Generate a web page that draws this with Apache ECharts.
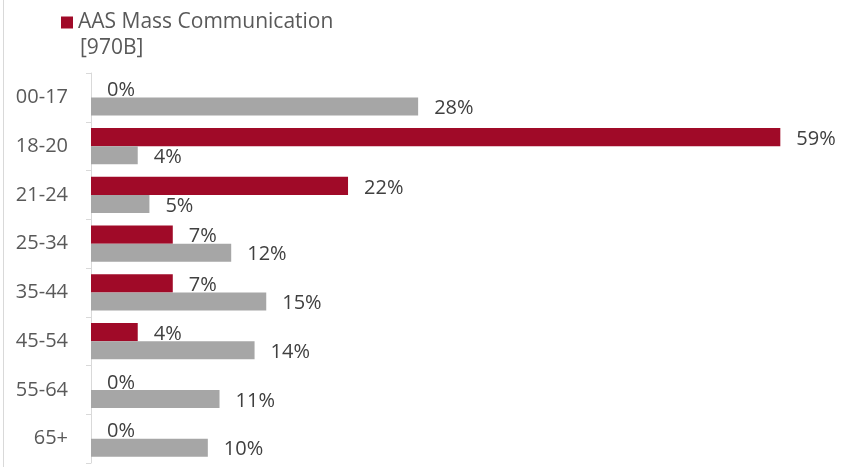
<!DOCTYPE html>
<html>
<head>
<meta charset="utf-8">
<script src="https://cdn.jsdelivr.net/npm/echarts@6/dist/echarts.min.js"></script>
<style>
  html, body { margin: 0; padding: 0; background: #fff; }
  #chart { width: 848px; height: 467px; }
</style>
</head>
<body>
<div id="chart"></div>
<script>
// Age bands, top to bottom
const ageGroups = ['00-17', '18-20', '21-24', '25-34', '35-44', '45-54', '55-64', '65+'];
// Share of respondents per age band (%)
const massCommValues = [0, 59, 22, 7, 7, 4, 0, 0];
const comparisonValues = [28, 4, 5, 12, 15, 14, 11, 10];

const seriesName = 'AAS Mass Communication';
const sampleNote = '[970B]';

const textColor = '#595959';
const fontFamily = '"Open Sans", "Liberation Sans", sans-serif';

const chart = echarts.init(document.getElementById('chart'));

const labelStyle = {
  show: true,
  position: 'right',
  distance: 16,
  offset: [0, 2],
  formatter: p => p.value + '%',
  color: '#404040',
  fontSize: 20,
  fontFamily: fontFamily
};

chart.setOption({
  animation: false,
  backgroundColor: '#fff',
  legend: {
    data: [seriesName],
    left: 56,
    top: 7,
    icon: 'rect',
    itemWidth: 12,
    itemHeight: 12,
    itemGap: 6,
    textStyle: { color: textColor, fontSize: 21, fontFamily: fontFamily }
  },
  title: {
    text: sampleNote,
    left: 75,
    top: 33,
    textStyle: { color: textColor, fontSize: 21, fontWeight: 'normal', fontFamily: fontFamily }
  },
  graphic: [{
    type: 'line',
    shape: { x1: 3.5, y1: 0, x2: 3.5, y2: 467 },
    style: { stroke: '#d9d9d9', lineWidth: 1 },
    silent: true
  }],
  grid: { left: 91, right: 56, top: 73, bottom: 4, containLabel: false },
  xAxis: {
    type: 'value',
    min: 0,
    max: 60,
    show: false
  },
  yAxis: {
    type: 'category',
    data: ageGroups,
    inverse: true,
    axisLine: { show: true, lineStyle: { color: '#d9d9d9', width: 1 } },
    axisTick: { show: true, length: 5, lineStyle: { color: '#d9d9d9' } },
    axisLabel: { color: textColor, fontSize: 20, fontFamily: fontFamily, margin: 23 },
    splitLine: { show: false }
  },
  series: [
    {
      name: seriesName,
      type: 'bar',
      data: massCommValues,
      itemStyle: { color: '#A00A28' },
      barGap: '0%',
      barCategoryGap: '26%',
      label: labelStyle
    },
    {
      name: 'Comparison',
      type: 'bar',
      data: comparisonValues,
      itemStyle: { color: '#A6A6A6' },
      barGap: '0%',
      barCategoryGap: '26%',
      label: labelStyle
    }
  ]
});
</script>
</body>
</html>
